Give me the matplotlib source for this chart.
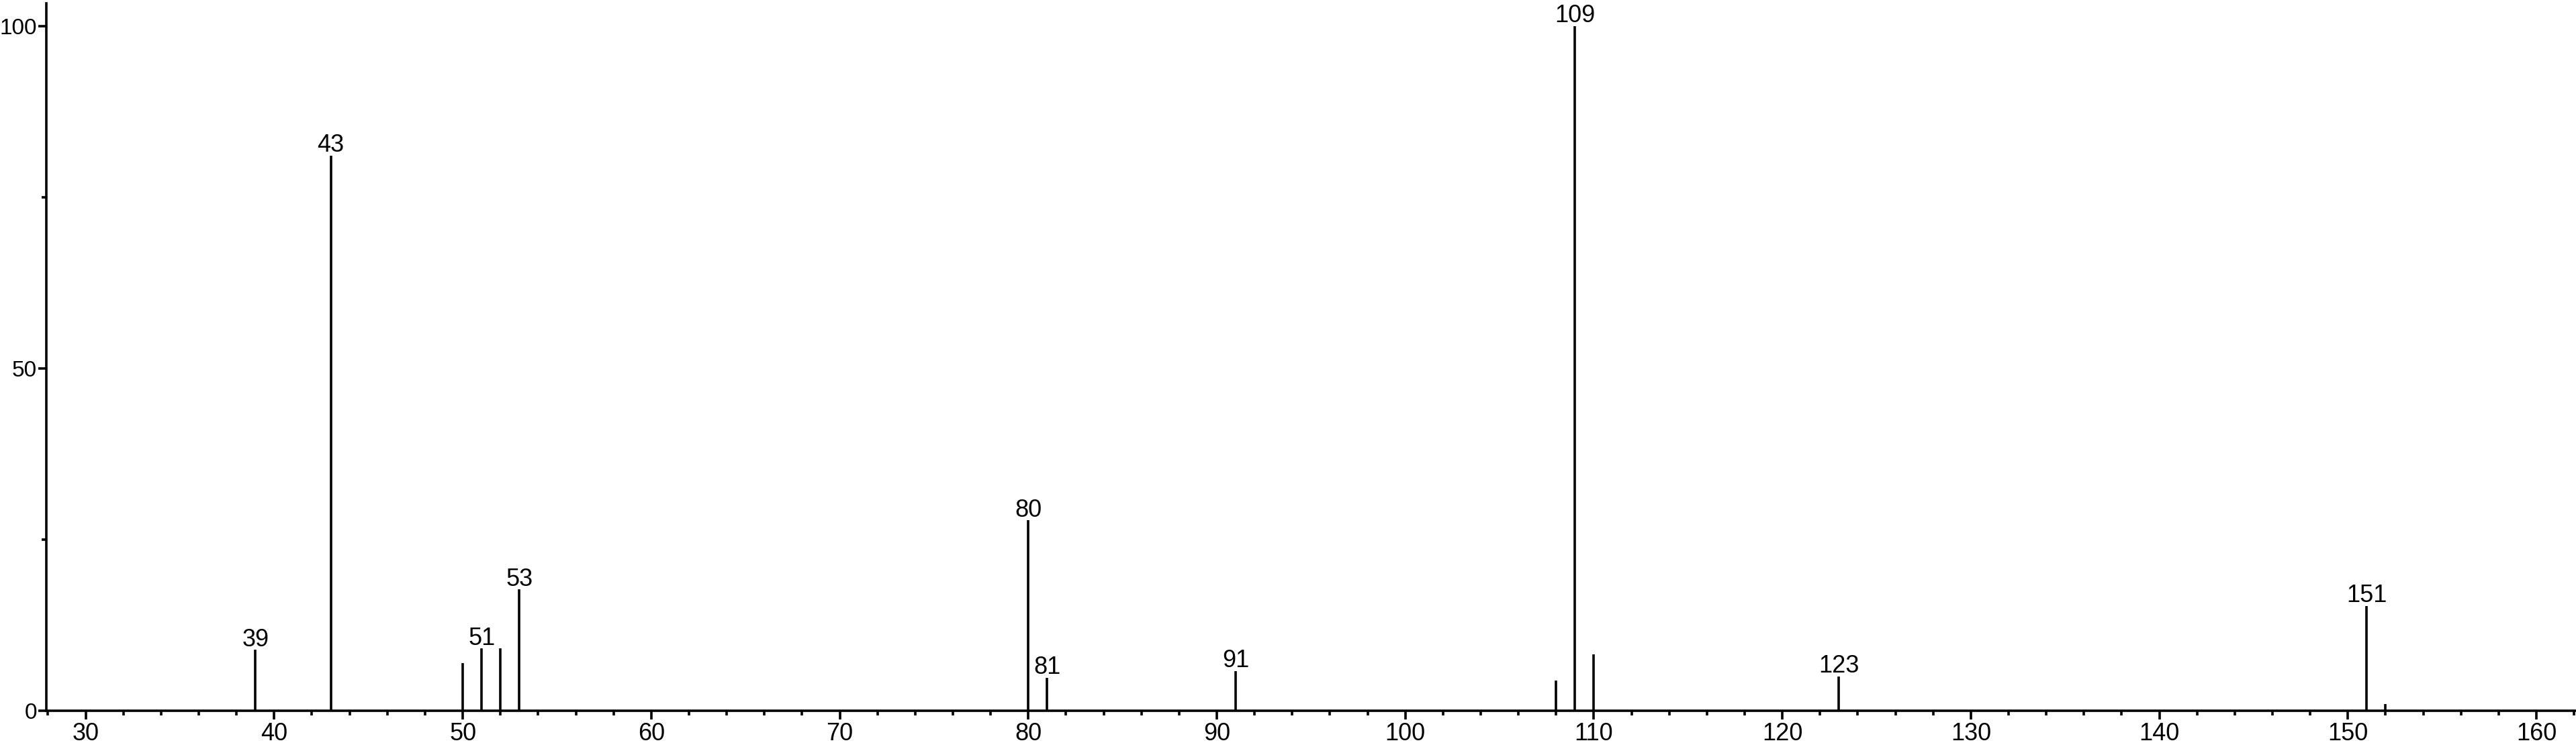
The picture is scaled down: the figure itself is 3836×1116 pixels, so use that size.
"""
Mass spectrum stick plot (relative abundance vs m/z), saved to out.png
"""

import matplotlib.pyplot as plt
from matplotlib.ticker import MultipleLocator

# ---------------------------------------------------------------------------
# Data
# ---------------------------------------------------------------------------

mz = [39, 43, 50, 51, 52, 53, 80, 81, 91, 108, 109, 110, 123, 151, 152]
intensity = [8.9, 81.1, 7.0, 9.1, 9.1, 17.7, 27.8, 4.8, 5.8, 4.4, 100.0, 8.2, 5.0, 15.3, 1.0]
labelled = [39, 43, 51, 53, 80, 81, 91, 109, 123, 151]

# ---------------------------------------------------------------------------
# Plot
# ---------------------------------------------------------------------------

plt.rcParams["font.family"] = ["Liberation Sans", "DejaVu Sans"]
fs = 26

fig = plt.figure(figsize=(38.36, 11.16), dpi=100)
ax = fig.add_axes([0.0179, 0.0511, 0.9821, 0.9444])

lw = 2.6
ax.vlines(mz, 0, intensity, color="black", linewidth=lw)

for m, h in zip(mz, intensity):
    if m in labelled:
        ax.annotate(str(m), (m, h), xytext=(0, 4), textcoords="offset points",
                    ha="center", va="baseline", fontsize=fs)

ax.set_xlim(27.9, 162.1)
ax.set_ylim(0, 103.3)

ax.xaxis.set_major_locator(MultipleLocator(10))
ax.xaxis.set_minor_locator(MultipleLocator(2))
ax.set_yticks([0, 50, 100])
ax.yaxis.set_minor_locator(MultipleLocator(25))

for side in ("top", "right"):
    ax.spines[side].set_visible(False)
for side in ("left", "bottom"):
    ax.spines[side].set_linewidth(lw)

ax.tick_params(which="major", length=9, width=lw, pad=1)
ax.tick_params(which="minor", length=5, width=lw)
ax.tick_params(axis="x", which="major", pad=3, labelsize=fs)
ax.tick_params(axis="y", which="major", labelsize=24)

fig.savefig("out.png", dpi=100)
